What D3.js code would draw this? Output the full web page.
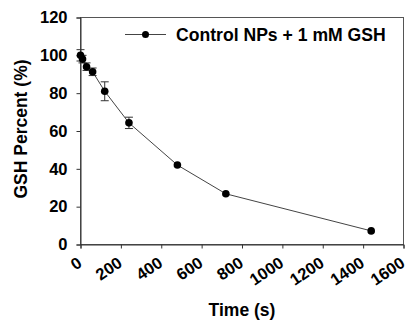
<!DOCTYPE html>
<html><head><meta charset="utf-8">
<script src="https://cdn.jsdelivr.net/npm/d3@7"></script>
<style>body{margin:0;background:#fff;} text{font-family:"Liberation Sans",Arial,sans-serif;font-weight:bold;fill:#000;}</style>
</head><body>
<svg id="c" width="408" height="323"></svg>
<script>
const times = [0, 10, 30, 60, 120, 240, 480, 720, 1440];
const gshPercent = [100, 98, 94, 91.3, 81, 64.3, 42, 26.8, 7.2];
const errors = [3, 2, 2, 2, 5, 3, 0.8, 0.8, 0.8];
const xTicks = [0, 200, 400, 600, 800, 1000, 1200, 1400, 1600];
const yTicks = [0, 20, 40, 60, 80, 100, 120];
const seriesName = "Control NPs + 1 mM GSH";

const svg = d3.select("#c");
const m = {l: 80.5, r: 403.5, t: 17.5, b: 244.5};
const x = d3.scaleLinear().domain([0, 1600]).range([m.l, m.r]);
const y = d3.scaleLinear().domain([0, 120]).range([m.b, m.t]);

// box
svg.append("rect").attr("x", m.l).attr("y", m.t).attr("width", m.r - m.l).attr("height", m.b - m.t)
  .attr("fill", "none").attr("stroke", "#555").attr("stroke-width", 1);

const yAxis = svg.append("g").attr("transform", `translate(${m.l},0)`)
  .call(d3.axisLeft(y).tickValues(yTicks).tickSize(4).tickPadding(9));
yAxis.select(".domain").attr("stroke", "#333");
yAxis.selectAll(".tick line").attr("stroke", "#333");
yAxis.selectAll("text").style("font-size", "16.5px").attr("font-family", null);

const xAxis = svg.append("g").attr("transform", `translate(0,${m.b})`)
  .call(d3.axisBottom(x).tickValues(xTicks).tickSize(4).tickFormat(d3.format("d")));
xAxis.select(".domain").attr("stroke", "#333");
xAxis.selectAll(".tick line").attr("stroke", "#333");
xAxis.selectAll("text").style("font-size", "16.5px").attr("font-family", null)
  .attr("text-anchor", "end").attr("dy", null).attr("y", 0)
  .attr("transform", "translate(2,21) rotate(-34)");

// line
svg.append("path").datum(times.map((t, i) => [t, gshPercent[i]]))
  .attr("fill", "none").attr("stroke", "#444").attr("stroke-width", 1)
  .attr("d", d3.line().x(d => x(d[0])).y(d => y(d[1])));

// error bars
const eb = svg.append("g").attr("stroke", "#333").attr("stroke-width", 1);
times.forEach((t, i) => {
  const e = errors[i];
  if (e < 1) return;
  const cx = x(t), y1 = y(gshPercent[i] + e), y2 = y(gshPercent[i] - e);
  eb.append("line").attr("x1", cx).attr("x2", cx).attr("y1", y1).attr("y2", y2);
  eb.append("line").attr("x1", cx - 4).attr("x2", cx + 4).attr("y1", y1).attr("y2", y1);
  eb.append("line").attr("x1", cx - 4).attr("x2", cx + 4).attr("y1", y2).attr("y2", y2);
});

svg.append("g").selectAll("circle").data(times).join("circle")
  .attr("cx", d => x(d)).attr("cy", (d, i) => y(gshPercent[i])).attr("r", 3.8).attr("fill", "#000");

// legend
const lg = svg.append("g");
lg.append("line").attr("x1", 125).attr("x2", 166).attr("y1", 34.5).attr("y2", 34.5).attr("stroke", "#444");
lg.append("circle").attr("cx", 145.5).attr("cy", 34.5).attr("r", 3.5).attr("fill", "#000");
lg.append("text").attr("x", 176).attr("y", 40.5).style("font-size", "17.6px").text(seriesName);

// axis titles
svg.append("text").attr("transform", "translate(27,129) rotate(-90)").attr("text-anchor", "middle")
  .style("font-size", "17.5px").text("GSH Percent (%)");
svg.append("text").attr("x", 242).attr("y", 316).attr("text-anchor", "middle")
  .style("font-size", "17.5px").text("Time (s)");
</script>
</body></html>
